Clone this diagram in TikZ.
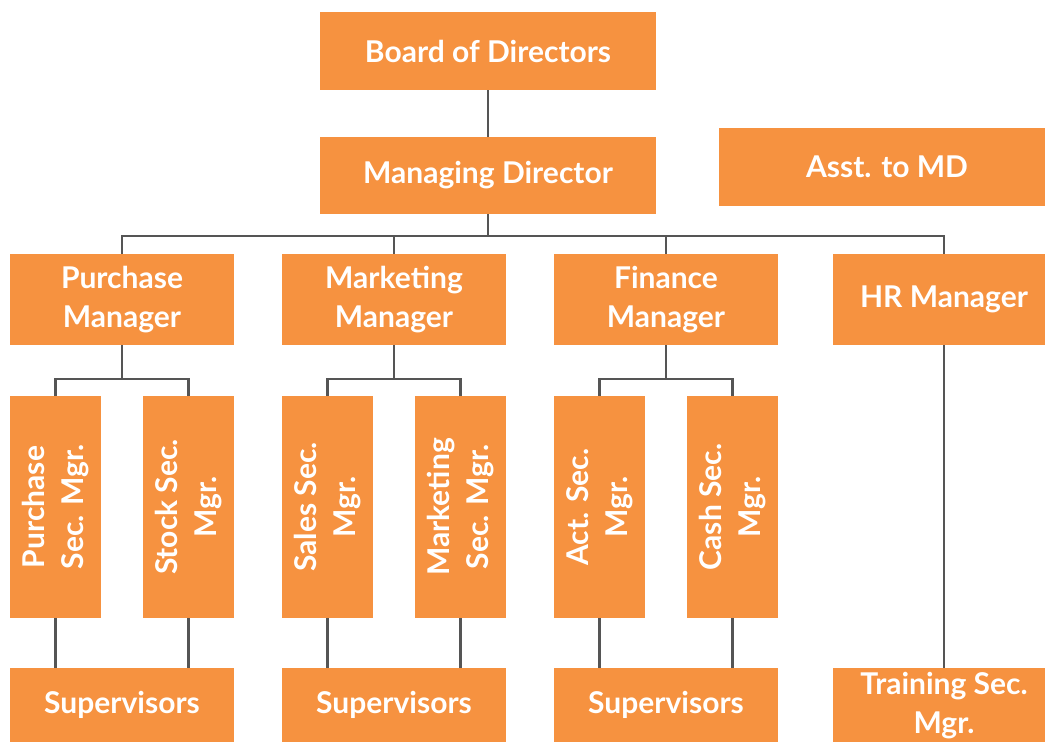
\documentclass[tikz,border=0pt]{standalone}
\usepackage{fontspec}
\setmainfont{Lato}
\definecolor{boxorange}{HTML}{F69240}
\definecolor{linegray}{HTML}{555555}
\begin{document}
\begin{tikzpicture}[x=1pt,y=-1pt,
  box/.style={fill=boxorange, text=white, align=center, inner sep=0pt,
    font=\fontsize{30}{39}\selectfont\bfseries},
  wide/.style={box, minimum width=336pt, minimum height=78pt},
  mgr/.style={box, minimum width=224pt, minimum height=91pt},
  vbox/.style={box, minimum width=222pt, minimum height=91pt, rotate=90},
  sup/.style={box, minimum width=224pt, minimum height=74pt},
  conn/.style={draw=linegray, line width=2.2pt}]
\useasboundingbox (0,0) rectangle (1045,742);
\node[wide] (bod) at (488,51) {Board of Directors};
\node[wide, minimum height=77pt] (md) at (488,175.5) {Managing Director};
\node[wide] (asst) at (887,167) {Asst. to MD};
\node[mgr] (pm) at (122,299.5) {Purchase\\Manager};
\node[mgr] (mm) at (394,299.5) {Marketing\\Manager};
\node[mgr] (fm) at (666,299.5) {Finance\\Manager};
\node[mgr, minimum width=222pt] (hr) at (944,299.5) {HR Manager};
\node[vbox] (ps) at (55.5,507) {Purchase\\Sec. Mgr.};
\node[vbox] (ss) at (188.5,507) {Stock Sec.\\Mgr.};
\node[vbox] (sa) at (327.5,507) {Sales Sec.\\Mgr.};
\node[vbox] (ks) at (460.5,507) {Marketing\\Sec. Mgr.};
\node[vbox] (as) at (599.5,507) {Act. Sec.\\Mgr.};
\node[vbox] (cs) at (732.5,507) {Cash Sec.\\Mgr.};
\node[sup] (sp1) at (122,705) {Supervisors};
\node[sup] (sp2) at (394,705) {Supervisors};
\node[sup] (sp3) at (666,705) {Supervisors};
\node[box, minimum width=222pt, minimum height=76pt] (tr) at (944,706) {Training Sec.\\Mgr.};
\coordinate (bus) at (488,236);
\draw[conn] (bod.south) -- (md.north);
\draw[conn] (md.south) -- (bus);
\draw[conn] (pm.north) |- (bus);
\draw[conn] (hr.north) |- (bus);
\draw[conn] (mm.north) -- (mm.north |- bus);
\draw[conn] (fm.north) -- (fm.north |- bus);
\draw[conn] (pm.south) -- ++(0,33.5) coordinate (pb);
\draw[conn] (ps.east) |- (pb) -| (ss.east);
\draw[conn] (mm.south) -- ++(0,33.5) coordinate (mb);
\draw[conn] (sa.east) |- (mb) -| (ks.east);
\draw[conn] (fm.south) -- ++(0,33.5) coordinate (fb);
\draw[conn] (as.east) |- (fb) -| (cs.east);
\draw[conn] (ps.west) -- (ps.west |- sp1.north);
\draw[conn] (ss.west) -- (ss.west |- sp1.north);
\draw[conn] (sa.west) -- (sa.west |- sp2.north);
\draw[conn] (ks.west) -- (ks.west |- sp2.north);
\draw[conn] (as.west) -- (as.west |- sp3.north);
\draw[conn] (cs.west) -- (cs.west |- sp3.north);
\draw[conn] (hr.south) -- (tr.north);
\end{tikzpicture}
\end{document}
